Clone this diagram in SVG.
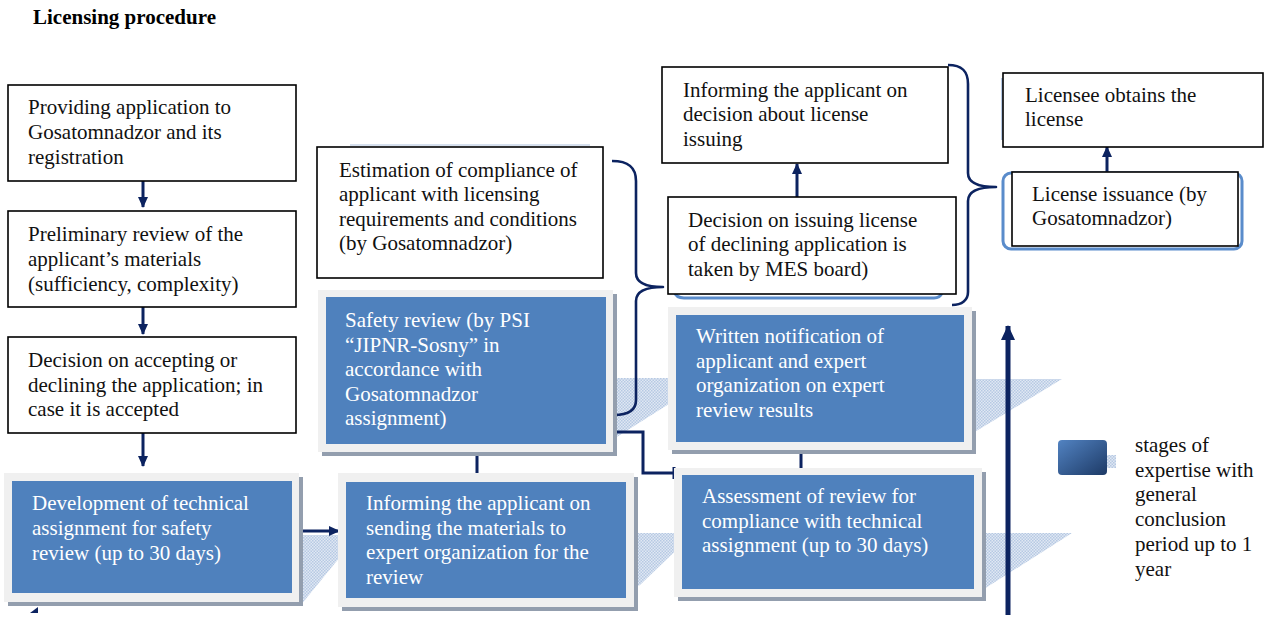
<svg xmlns="http://www.w3.org/2000/svg" width="1270" height="621" viewBox="0 0 1270 621">
  <style>
    .t { font-family: "Liberation Serif", "Times New Roman", serif; font-size: 21px; fill: #111; }
    .w { font-family: "Liberation Serif", "Times New Roman", serif; font-size: 21px; fill: #ffffff; }
    .title { font-family: "Liberation Serif", "Times New Roman", serif; font-size: 21px; font-weight: bold; fill: #000; }
    .box { fill: #ffffff; stroke: #000; stroke-width: 1.6; }
    .frame { fill: #f0f0f0; }
    .shadow { fill: #939eae; }
    .blue { fill: #4f81bd; }
    .link { fill: none; stroke: #0c2360; stroke-width: 3; }
    .brace { fill: none; stroke: #0c2360; stroke-width: 2.6; stroke-linejoin: round; }
    .halo { fill: none; stroke: #5a8ccb; stroke-width: 3; }
    .band { fill: url(#dots); }
  </style>
  <defs>
    <pattern id="dots" width="3" height="3" patternUnits="userSpaceOnUse">
      <rect width="3" height="3" fill="#e0e8f3"/>
      <rect width="1.5" height="1.5" fill="#b6c9e3"/>
      <rect x="1.5" y="1.5" width="1.5" height="1.5" fill="#b6c9e3"/>
    </pattern>
    <linearGradient id="legendGrad" x1="0" y1="0" x2="1" y2="1">
      <stop offset="0" stop-color="#5283c2"/>
      <stop offset="1" stop-color="#1d3a66"/>
    </linearGradient>
    <marker id="head" markerUnits="userSpaceOnUse" markerWidth="12" markerHeight="12" refX="10" refY="6" orient="auto">
      <path d="M0,1 L11,6 L0,11 Z" fill="#0c2360"/>
    </marker>
    <marker id="bigHead" markerUnits="userSpaceOnUse" markerWidth="16" markerHeight="16" refX="14" refY="8" orient="auto">
      <path d="M0,1 L15,8 L0,15 Z" fill="#0c2360"/>
    </marker>
  </defs>

  <text class="title" x="33" y="24">Licensing procedure</text>

  <!-- dotted perspective bands behind the expertise stages -->
  <g id="bands">
    <polygon class="band" points="300,535 358,535 300,606"/>
    <polygon class="band" points="626,533 694,533 640,585 626,592"/>
    <polygon class="band" points="974,533 1072,533 984,589 974,589"/>
    <polygon class="band" points="606,378 672,378 672,402 612,440 606,440"/>
    <polygon class="band" points="964,379 1062,379 973,433 964,433"/>
  </g>

  <!-- connectors -->
  <g id="connectors">
    <line class="link" x1="143" y1="181" x2="143" y2="207" marker-end="url(#head)"/>
    <line class="link" x1="143" y1="307" x2="143" y2="334" marker-end="url(#head)"/>
    <line class="link" x1="143" y1="433" x2="143" y2="466" marker-end="url(#head)"/>
    <line class="link" x1="300" y1="531" x2="339" y2="531" marker-end="url(#head)"/>
    <!-- informing -> safety review -->
    <path class="link" d="M477,474 V453 M471,453 H483"/>
    <!-- safety review -> assessment -->
    <path class="link" d="M613,432 H643 V473 H674 M674,467 V479"/>
    <!-- assessment -> written notification -->
    <path class="link" d="M801,468 V451 M795,451 H807"/>
    <line class="link" x1="797" y1="197" x2="797" y2="164" marker-end="url(#head)"/>
    <line class="link" x1="1107" y1="172" x2="1107" y2="147" marker-end="url(#head)"/>
    <!-- braces -->
    <path class="brace" d="M612,161 C628,161 636,167 636,181 L636,273 C636,282 645,287 663,287 C645,287 636,292 636,301 L636,400 C636,410 628,415 614,415"/>
    <path class="brace" d="M948,65 C962,65 968,71 968,84 L968,173 C968,182 976,187 996,187 C976,187 968,192 968,201 L968,292 C968,300 962,305 952,305"/>
    <!-- overall period arrow -->
    <line x1="1008" y1="615" x2="1008" y2="326" stroke="#0c2360" stroke-width="5" marker-end="url(#bigHead)"/>
    <polygon points="30,613 38,607 38,613" fill="#0c2360"/>
  </g>

  <g id="n1">
    <rect class="box" x="8" y="85" width="288" height="96"/>
    <text class="t" x="28" y="114">Providing application to</text>
    <text class="t" x="28" y="139">Gosatomnadzor and its</text>
    <text class="t" x="28" y="164">registration</text>
  </g>
  <g id="n2">
    <rect class="box" x="8" y="211" width="288" height="96"/>
    <text class="t" x="28" y="241">Preliminary review of the</text>
    <text class="t" x="28" y="266">applicant’s materials</text>
    <text class="t" x="28" y="291">(sufficiency, complexity)</text>
  </g>
  <g id="n3">
    <rect class="box" x="8" y="337" width="288" height="96"/>
    <text class="t" x="28" y="367">Decision on accepting or</text>
    <text class="t" x="28" y="392">declining the application; in</text>
    <text class="t" x="28" y="416">case it is accepted</text>
  </g>

  <g id="n4">
    <rect class="shadow" x="8" y="477" width="295" height="129"/>
    <rect class="frame" x="4" y="473" width="295" height="129"/>
    <rect class="blue" x="12" y="481" width="280" height="112"/>
    <text class="w" x="32" y="510">Development of technical</text>
    <text class="w" x="32" y="535">assignment for safety</text>
    <text class="w" x="32" y="560">review (up to 30 days)</text>
  </g>
  <g id="n5">
    <rect class="shadow" x="342" y="477" width="296" height="134"/>
    <rect class="frame" x="338" y="473" width="296" height="134"/>
    <rect class="blue" x="346" y="482" width="280" height="116"/>
    <text class="w" x="366" y="510">Informing the applicant on</text>
    <text class="w" x="366" y="535">sending the materials to</text>
    <text class="w" x="366" y="559">expert organization for the</text>
    <text class="w" x="366" y="584">review</text>
  </g>
  <g id="n6">
    <rect class="shadow" x="322" y="294" width="295" height="162"/>
    <rect class="frame" x="318" y="290" width="295" height="162"/>
    <rect class="blue" x="326" y="297" width="280" height="147"/>
    <text class="w" x="345" y="327">Safety review (by PSI</text>
    <text class="w" x="345" y="352">“JIPNR-Sosny” in</text>
    <text class="w" x="345" y="376">accordance with</text>
    <text class="w" x="345" y="401">Gosatomnadzor</text>
    <text class="w" x="345" y="425">assignment)</text>
  </g>
  <g id="n7">
    <rect class="shadow" x="672" y="311" width="304" height="143"/>
    <rect class="frame" x="668" y="307" width="304" height="143"/>
    <rect class="blue" x="676" y="315" width="288" height="127"/>
    <text class="w" x="696" y="343">Written notification of</text>
    <text class="w" x="696" y="368">applicant and expert</text>
    <text class="w" x="696" y="392">organization on expert</text>
    <text class="w" x="696" y="417">review results</text>
  </g>
  <g id="n8">
    <rect class="shadow" x="678" y="472" width="308" height="129"/>
    <rect class="frame" x="674" y="468" width="308" height="129"/>
    <rect class="blue" x="682" y="475" width="292" height="114"/>
    <text class="w" x="702" y="503">Assessment of review for</text>
    <text class="w" x="702" y="528">compliance with technical</text>
    <text class="w" x="702" y="552">assignment (up to 30 days)</text>
  </g>

  <g id="n9">
    <line x1="350" y1="145" x2="590" y2="145" stroke="#c9d6e8" stroke-width="1.5"/>
    <rect class="box" x="317" y="147" width="286" height="131"/>
    <text class="t" x="339" y="177">Estimation of compliance of</text>
    <text class="t" x="339" y="201">applicant with licensing</text>
    <text class="t" x="339" y="226">requirements and conditions</text>
    <text class="t" x="339" y="250">(by Gosatomnadzor)</text>
  </g>
  <g id="n10">
    <rect class="box" x="662" y="67" width="286" height="96"/>
    <text class="t" x="683" y="97">Informing the applicant on</text>
    <text class="t" x="683" y="121">decision about license</text>
    <text class="t" x="683" y="146">issuing</text>
  </g>
  <g id="n11">
    <path class="halo" d="M674,291 Q676,298 684,298 L934,298 Q940,298 942,293"/>
    <rect class="box" x="668" y="197" width="288" height="97"/>
    <text class="t" x="688" y="227">Decision on issuing license</text>
    <text class="t" x="688" y="251">of declining application is</text>
    <text class="t" x="688" y="276">taken by MES board)</text>
  </g>
  <g id="n12">
    <line x1="1002" y1="78" x2="1002" y2="140" stroke="#9fb8dc" stroke-width="1.5"/>
    <rect class="box" x="1003" y="73" width="260" height="74"/>
    <text class="t" x="1025" y="102">Licensee obtains the</text>
    <text class="t" x="1025" y="126">license</text>
  </g>
  <g id="n13">
    <rect class="halo" x="1003" y="173" width="239" height="76" rx="8"/>
    <rect class="box" x="1012" y="172" width="226" height="74"/>
    <text class="t" x="1032" y="201">License issuance (by</text>
    <text class="t" x="1032" y="225">Gosatomnadzor)</text>
  </g>

  <g id="legend">
    <polygon class="band" points="1104,455 1116,455 1116,468 1104,468"/>
    <rect x="1058" y="440" width="49" height="35" rx="4" fill="url(#legendGrad)"/>
    <text class="t" x="1135" y="452">stages of</text>
    <text class="t" x="1135" y="477">expertise with</text>
    <text class="t" x="1135" y="501">general</text>
    <text class="t" x="1135" y="526">conclusion</text>
    <text class="t" x="1135" y="551">period up to 1</text>
    <text class="t" x="1135" y="576">year</text>
  </g>
</svg>
